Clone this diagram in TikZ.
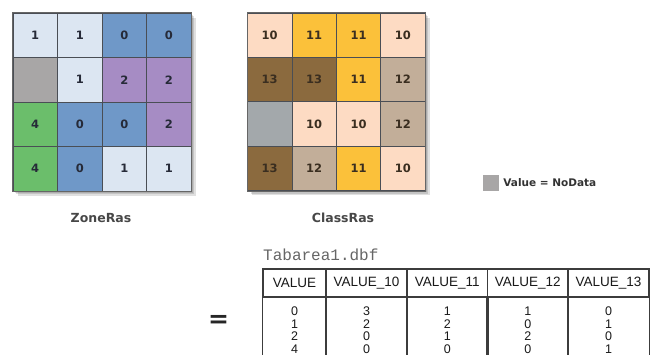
\documentclass[tikz,border=0pt]{standalone}
\usepackage{fontspec}
\setmainfont{DejaVu Sans}
\newfontfamily\tabfont{Liberation Sans}
\newfontfamily\monofont{Liberation Mono}
\definecolor{lb}{HTML}{DCE6F2}
\definecolor{mb}{HTML}{6F98C8}
\definecolor{pu}{HTML}{A68CC4}
\definecolor{gr}{HTML}{6BBE6B}
\definecolor{gy}{HTML}{A8A6A6}
\definecolor{pe}{HTML}{FDDBC3}
\definecolor{go}{HTML}{FBC13A}
\definecolor{br}{HTML}{8B6A3E}
\definecolor{ta}{HTML}{C2AE99}
\definecolor{gz}{HTML}{A3A8AB}
\definecolor{cellline}{HTML}{4A4E55}
\definecolor{numdark}{HTML}{262A38}
\definecolor{numbrown}{HTML}{3A2E20}
\definecolor{tabline}{HTML}{3C3C3C}
\begin{document}
\begin{tikzpicture}[x=1pt,y=-1pt,
  zcell/.style={draw=cellline, line width=0.7pt, minimum size=44.5pt, inner sep=0pt,
    font=\fontsize{11.5}{13}\selectfont\bfseries, text=numdark},
  ccell/.style={draw=cellline, line width=0.7pt, minimum size=44.4pt, inner sep=0pt,
    font=\fontsize{11.5}{13}\selectfont\bfseries, text=numbrown},
  rlabel/.style={font=\fontsize{12.5}{14}\selectfont\bfseries, text=black!72},
  shadowbox/.style={fill=black, opacity=0.12},
  hcell/.style={draw=tabline, line width=1.1pt, minimum height=28pt, inner sep=0pt,
    font=\tabfont\fontsize{13.5}{14}\selectfont, text=black!90},
  bodytxt/.style={anchor=north, inner sep=0pt, align=center,
    font=\tabfont\fontsize{12.5}{12.5}\selectfont, text=black!90},
  tabrule/.style={draw=tabline, line width=1.1pt}]
\useasboundingbox (0,0) rectangle (655,354);
\clip (0,0) rectangle (655,354);
\fill[white] (0,0) rectangle (655,354);

% shadows
\foreach \d in {1.5,3,4.5}{
  \fill[shadowbox] (13+\d,13+\d) rectangle (191+\d,191+\d);
  \fill[shadowbox] (247.5+\d,13+\d) rectangle (425+\d,190.6+\d);
}

% ZoneRas
\foreach \r/\c/\f/\t in {1/1/lb/1,1/2/lb/1,1/3/mb/0,1/4/mb/0,
                         2/1/gy/{},2/2/lb/1,2/3/pu/2,2/4/pu/2,
                         3/1/gr/4,3/2/mb/0,3/3/mb/0,3/4/pu/2,
                         4/1/gr/4,4/2/mb/0,4/3/lb/1,4/4/lb/1}
  \node[zcell, fill=\f] (z\r\c) at ({13+44.5*(\c-0.5)},{13+44.5*(\r-0.5)}) {\t};
\draw[draw=gray!80!black, line width=0.9pt] (z11.north west) rectangle (z44.south east);

% ClassRas
\foreach \r/\c/\f/\t in {1/1/pe/10,1/2/go/11,1/3/go/11,1/4/pe/10,
                         2/1/br/13,2/2/br/13,2/3/go/11,2/4/ta/12,
                         3/1/gz/{},3/2/pe/10,3/3/pe/10,3/4/ta/12,
                         4/1/br/13,4/2/ta/12,4/3/go/11,4/4/pe/10}
  \node[ccell, fill=\f] (c\r\c) at ({247.5+44.4*(\c-0.5)},{13+44.4*(\r-0.5)}) {\t};
\draw[draw=gray!80!black, line width=0.9pt] (c11.north west) rectangle (c44.south east);

% labels
\node[rlabel] (zlab) at (101,218) {ZoneRas};
\node[rlabel] (clab) at (343,218) {ClassRas};

% legend
\node[fill=gy, minimum size=16pt, inner sep=0pt] (legsq) at (491,183) {};
\node[anchor=west, inner sep=4pt, font=\fontsize{10.5}{12}\selectfont\bfseries, text=black!80]
  (legtxt) at (legsq.east) {Value = NoData};

% equals sign
\node[font=\fontsize{25}{25}\selectfont\bfseries, text=black!85, inner sep=0pt] (eq) at (218.5,321) {=};

% table title
\node[anchor=west, inner sep=0pt, font=\monofont\fontsize{16}{16}\selectfont, text=black!60]
  (ttl) at (263,255) {Tabarea1.dbf};

% table header
\node[hcell, minimum width=63pt]   (h1) at (294.5,283) {VALUE};
\node[hcell, minimum width=81pt]   (h2) at (366.5,283) {VALUE\_10};
\node[hcell, minimum width=80.5pt] (h3) at (447.25,283) {VALUE\_11};
\node[hcell, minimum width=80.5pt] (h4) at (527.75,283) {VALUE\_12};
\node[hcell, minimum width=81pt]   (h5) at (608.5,283) {VALUE\_13};

% table body
\foreach \n in {1,...,5}{
  \draw[tabrule] (h\n.south west) -- ++(0,80);
  \draw[tabrule] (h\n.south east) -- ++(0,80);
}
\node[bodytxt] (b1) at ([yshift=-9.5pt]h1.south) {0\\1\\2\\4};
\node[bodytxt] (b2) at ([yshift=-9.5pt]h2.south) {3\\2\\0\\0};
\node[bodytxt] (b3) at ([yshift=-9.5pt]h3.south) {1\\2\\1\\0};
\node[bodytxt] (b4) at ([yshift=-9.5pt]h4.south) {1\\0\\2\\0};
\node[bodytxt] (b5) at ([yshift=-9.5pt]h5.south) {0\\1\\0\\1};
\end{tikzpicture}
\end{document}
